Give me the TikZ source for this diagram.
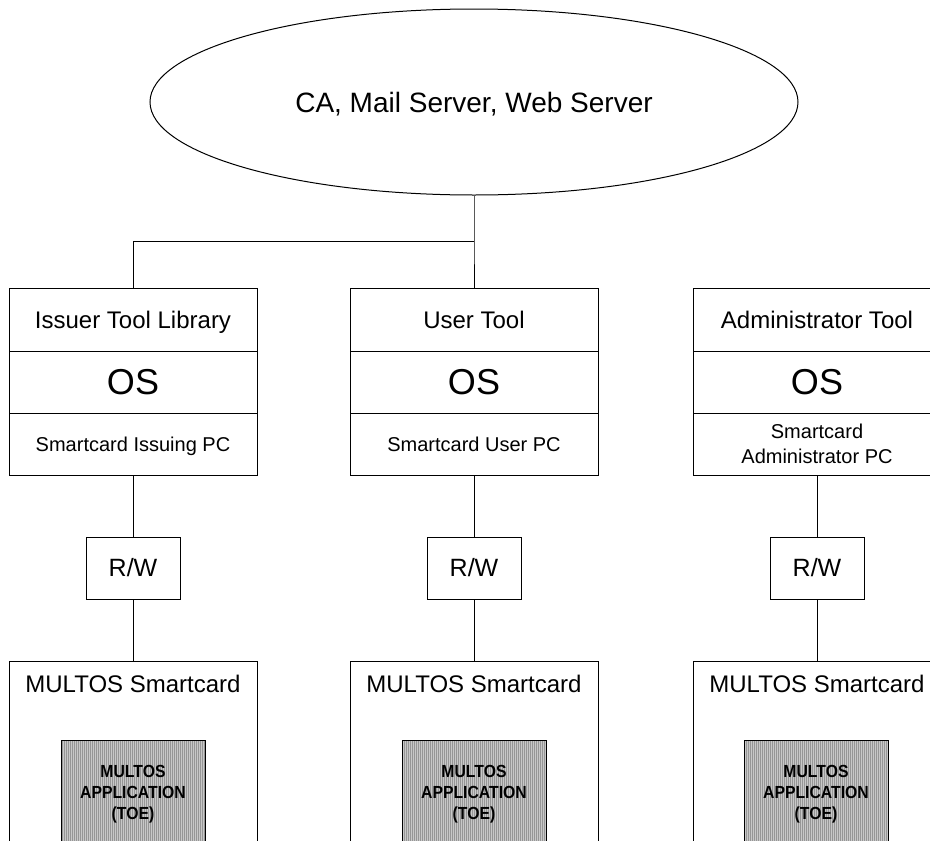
\documentclass[tikz,border=0pt]{standalone}
\usepackage{fontspec}
\setmainfont{Liberation Sans}
\newfontfamily\appfont[FakeStretch=0.9]{Liberation Sans}
\usetikzlibrary{shapes.geometric,patterns.meta}
\definecolor{appfill}{RGB}{200,200,200}
\definecolor{appstripe}{RGB}{150,150,150}
\tikzset{
  sect/.style={draw, line width=1pt, minimum width=248pt, minimum height=62pt, inner sep=0pt, align=center},
  toptext/.style={font=\fontsize{24}{28}\selectfont, text height=17.2pt, text depth=0pt},
  ostext/.style={font=\fontsize{36}{40}\selectfont, text height=25.8pt, text depth=0pt},
  pctext/.style={font=\fontsize{20}{25}\selectfont},
  pcone/.style={pctext, text height=14.3pt, text depth=0pt},
  rwbox/.style={draw, line width=1pt, minimum width=94pt, minimum height=62pt, inner sep=0pt, font=\fontsize{25}{30}\selectfont, text height=17.9pt, text depth=0pt},
  cardbox/.style={draw, line width=1pt, minimum width=248pt, minimum height=220pt, inner sep=0pt, anchor=north},
  cardtext/.style={inner sep=0pt, font=\fontsize{24}{28}\selectfont, text height=17.2pt, text depth=0pt},
  appbox/.style={draw, line width=1pt, preaction={fill=appfill}, pattern={Lines[angle=90,distance=2pt,line width=0.6pt]}, pattern color=appstripe, minimum width=144pt, minimum height=108pt, inner sep=0pt, align=center, font=\appfont\bfseries\fontsize{17.5}{21}\selectfont},
  conn/.style={line width=1pt}
}
\begin{document}
\begin{tikzpicture}[x=1pt,y=-1pt]
\useasboundingbox (0,0) rectangle (930,841);
\fill[white] (0,0) rectangle (930,841);

\node[draw, line width=1pt, ellipse, minimum width=648pt, minimum height=186pt, inner sep=0pt, font=\fontsize{28}{32}\selectfont, text height=20pt, text depth=0pt] (ell) at (474,102) {CA, Mail Server, Web Server};

% Column 1
\node[sect, toptext, minimum height=63pt] (i1) at (133,319.5) {Issuer Tool Library};
\node[sect, ostext] (i2) at (133,382) {OS};
\node[sect, pcone] (i3) at (133,444) {Smartcard Issuing PC};
\node[rwbox] (r1) at (133,568) {R/W};
\node[cardbox] (c1) at (133,661) {};
\node[cardtext] (t1) at (133,684) {MULTOS Smartcard};
\node[appbox] (a1) at (133,794) {MULTOS\\APPLICATION\\(TOE)};

% Column 2
\node[sect, toptext, minimum height=63pt] (u1) at (474,319.5) {User Tool};
\node[sect, ostext] (u2) at (474,382) {OS};
\node[sect, pcone] (u3) at (474,444) {Smartcard User PC};
\node[rwbox] (r2) at (474,568) {R/W};
\node[cardbox] (c2) at (474,661) {};
\node[cardtext] (t2) at (474,684) {MULTOS Smartcard};
\node[appbox] (a2) at (474,794) {MULTOS\\APPLICATION\\(TOE)};

% Column 3
\node[sect, toptext, minimum height=63pt] (m1) at (817,319.5) {Administrator Tool};
\node[sect, ostext] (m2) at (817,382) {OS};
\node[sect, pctext] (m3) at (817,444) {Smartcard\\Administrator PC};
\node[rwbox] (r3) at (817,568) {R/W};
\node[cardbox] (c3) at (817,661) {};
\node[cardtext] (t3) at (817,684) {MULTOS Smartcard};
\node[appbox] (a3) at (816,794) {MULTOS\\APPLICATION\\(TOE)};

% Connectors
\coordinate (j) at (474,241);
\draw[conn] (ell.south) -- (j) -- (u1.north);
\draw[conn] (j) -| (i1.north);
\draw[conn] (i3.south) -- (r1.north);
\draw[conn] (r1.south) -- (c1.north);
\draw[conn] (u3.south) -- (r2.north);
\draw[conn] (r2.south) -- (c2.north);
\draw[conn] (m3.south) -- (r3.north);
\draw[conn] (r3.south) -- (c3.north);
\end{tikzpicture}
\end{document}
